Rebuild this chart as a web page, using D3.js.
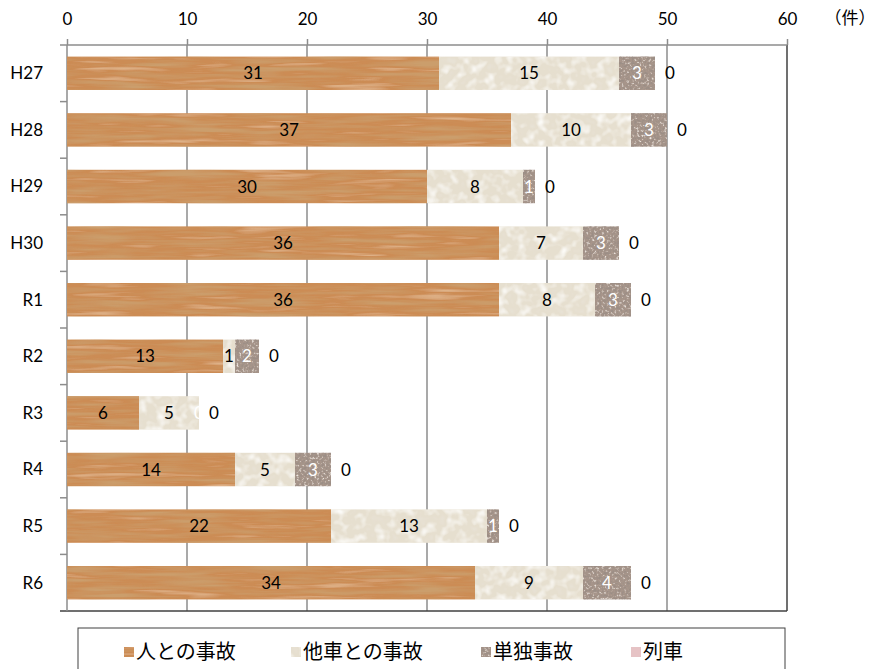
<!DOCTYPE html>
<html>
<head>
<meta charset="utf-8">
<script src="https://cdn.jsdelivr.net/npm/d3@7"></script>
<style>
  body { margin: 0; background: #fff; }
  svg { display: block; }
</style>
</head>
<body>
<div id="chart"></div>
<script>
// data
const years = ["H27", "H28", "H29", "H30", "R1", "R2", "R3", "R4", "R5", "R6"];
const seriesNames = ["人との事故", "他車との事故", "単独事故", "列車"];
const person = [31, 37, 30, 36, 36, 13, 6, 14, 22, 34];
const otherCar = [15, 10, 8, 7, 8, 1, 5, 5, 13, 9];
const single = [3, 3, 1, 3, 3, 2, 0, 3, 1, 4];
const train = [0, 0, 0, 0, 0, 0, 0, 0, 0, 0];
const xTicks = [0, 10, 20, 30, 40, 50, 60];

const W = 879, H = 669;
const margin = {top: 45, left: 67, right: 92, bottom: 58};
const innerW = W - margin.left - margin.right;
const innerH = H - margin.top - margin.bottom;

const svg = d3.select("#chart").append("svg")
    .attr("width", W)
    .attr("height", H);

// textures (noise overlays clipped to each shape)
const defs = svg.append("defs");
function texture(id, freq, seed, layers, oct) {
    let f = defs.append("filter").attr("id", id)
        .attr("x", 0).attr("y", 0).attr("width", 1).attr("height", 1);
    f.append("feTurbulence").attr("type", "fractalNoise")
        .attr("baseFrequency", freq).attr("numOctaves", oct).attr("seed", seed).attr("result", "t");
    layers.forEach((l, i) => {
        f.append("feColorMatrix").attr("in", "t").attr("type", "matrix")
            .attr("values", `0 0 0 0 ${l.rgb[0]} 0 0 0 0 ${l.rgb[1]} 0 0 0 0 ${l.rgb[2]} ${l.k} 0 0 0 ${l.c}`)
            .attr("result", "m" + i);
        f.append("feComposite").attr("in", "m" + i).attr("in2", "SourceGraphic")
            .attr("operator", "in").attr("result", "s" + i);
    });
    let mg = f.append("feMerge");
    mg.append("feMergeNode").attr("in", "SourceGraphic");
    layers.forEach((l, i) => mg.append("feMergeNode").attr("in", "s" + i));
}
texture("wood", "0.012 0.18", 4, [
    {rgb: [0.6, 0.34, 0.15], k: 3.0, c: -1.3},
    {rgb: [0.86, 0.62, 0.4], k: -2.0, c: 0.8}
], 3);
texture("paper", "0.1 0.1", 7, [
    {rgb: [0.97, 0.96, 0.93], k: 2.6, c: -1.2},
    {rgb: [0.82, 0.79, 0.72], k: -2.2, c: 0.8}
], 2);
texture("granite", "0.4 0.4", 2, [
    {rgb: [0.33, 0.27, 0.24], k: 3.6, c: -1.6},
    {rgb: [0.85, 0.8, 0.75], k: -3.6, c: 1.5}
], 2);

const colors = ["#cc8c54", "#e6dfcf", "#a8968b", "#e6c3c5"];
const filters = ["url(#wood)", "url(#paper)", "url(#granite)", null];
const labelColors = ["#000", "#000", "#fff", "#000"];

const g = svg.append("g")
    .attr("transform", `translate(${margin.left},${margin.top})`);

// scales
const x = d3.scaleLinear().domain([0, 60]).range([0, innerW]);
const y = d3.scaleBand().domain(years).range([0, innerH]).paddingInner(0.41).paddingOuter(0.205);

// gridlines
g.selectAll(".grid").data(xTicks.slice(1, -1)).enter().append("line")
    .attr("x1", d => x(d)).attr("x2", d => x(d))
    .attr("y1", 0).attr("y2", innerH)
    .attr("stroke", "#8c8c8c").attr("stroke-width", 1.5);

// right & bottom border
g.append("line").attr("x1", x(60)).attr("x2", x(60)).attr("y1", 0).attr("y2", innerH)
    .attr("stroke", "#404040").attr("stroke-width", 1.5);
g.append("line").attr("x1", -7).attr("x2", x(60)).attr("y1", innerH).attr("y2", innerH)
    .attr("stroke", "#404040").attr("stroke-width", 1.5);

// top axis
const xAxis = d3.axisTop(x).tickValues(xTicks).tickSize(6).tickPadding(14);
const ax = g.append("g").call(xAxis);
ax.select(".domain").remove();
g.append("line").attr("x1", -7).attr("x2", x(60)).attr("y1", 0).attr("y2", 0)
    .attr("stroke", "#8c8c8c").attr("stroke-width", 1.5);
ax.selectAll(".tick line").attr("stroke", "#8c8c8c").attr("stroke-width", 1.5).attr("y2", -6);
ax.selectAll(".tick text").attr("font-family", "Lato, 'Noto Sans', sans-serif")
    .attr("font-size", 17).attr("fill", "#000");
g.append("text").attr("x", x(60) + 63).attr("y", -21)
    .attr("text-anchor", "middle")
    .attr("font-family", "'Noto Sans CJK JP', sans-serif").attr("font-size", 17)
    .text("（件）");

// left axis
g.append("line").attr("x1", 0).attr("x2", 0).attr("y1", 0).attr("y2", innerH)
    .attr("stroke", "#8c8c8c").attr("stroke-width", 1.5);
const step = innerH / years.length;
g.selectAll(".ytick").data(d3.range(1, years.length)).enter().append("line")
    .attr("x1", -7).attr("x2", 0)
    .attr("y1", d => d * step).attr("y2", d => d * step)
    .attr("stroke", "#8c8c8c").attr("stroke-width", 1.5);
g.selectAll(".ylab").data(years).enter().append("text")
    .attr("x", -24).attr("y", d => y(d) + y.bandwidth() / 2)
    .attr("dy", "0.35em").attr("text-anchor", "end")
    .attr("font-family", "Lato, 'Noto Sans', sans-serif").attr("font-size", 17)
    .text(d => d);

// stacked bars
const rows = years.map((yr, i) => ({year: yr, v: [person[i], otherCar[i], single[i], train[i]]}));
const segs = [];
rows.forEach(r => {
    let acc = 0;
    r.v.forEach((v, k) => {
        segs.push({year: r.year, k: k, x0: acc, x1: acc + v, v: v});
        acc += v;
    });
});

g.selectAll(".seg").data(segs.filter(d => d.v > 0)).enter().append("rect")
    .attr("x", d => x(d.x0))
    .attr("y", d => y(d.year))
    .attr("width", d => x(d.x1) - x(d.x0))
    .attr("height", y.bandwidth())
    .attr("fill", d => colors[d.k])
    .attr("filter", d => filters[d.k]);

// labels
g.selectAll(".lab").data(segs).enter().append("text")
    .attr("x", d => d.k === 3 ? x(d.x1) + 15 : x((d.x0 + d.x1) / 2))
    .attr("y", d => y(d.year) + y.bandwidth() / 2)
    .attr("dy", "0.36em")
    .attr("text-anchor", "middle")
    .attr("font-family", "Lato, 'Noto Sans', sans-serif")
    .attr("font-size", 17)
    .attr("fill", d => labelColors[d.k])
    .text(d => d.v);

// legend
const lg = svg.append("g");
lg.append("rect").attr("x", 78).attr("y", 628).attr("width", 707).attr("height", 50)
    .attr("fill", "#fff").attr("stroke", "#404040").attr("stroke-width", 1);
const legX = [124, 291, 481, 631];
seriesNames.forEach((name, k) => {
    lg.append("rect").attr("x", legX[k]).attr("y", 647).attr("width", 10).attr("height", 10)
        .attr("fill", colors[k]).attr("filter", filters[k]);
    lg.append("text").attr("x", legX[k] + 12).attr("y", 652).attr("dy", "0.36em")
        .attr("font-family", "'Noto Sans CJK JP', sans-serif").attr("font-size", 20)
        .text(name);
});
</script>
</body>
</html>
